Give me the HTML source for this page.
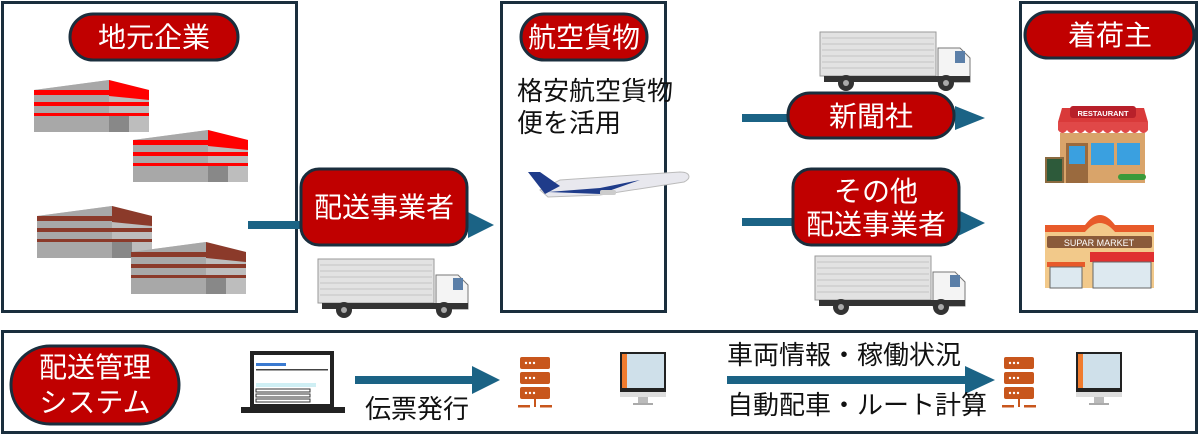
<!DOCTYPE html>
<html><head><meta charset="utf-8"><style>
html,body{margin:0;padding:0;background:#fff;width:1200px;height:441px;overflow:hidden}
svg text{font-family:"Liberation Sans","Noto Sans CJK JP",sans-serif}
</style></head><body>
<svg width="1200" height="441" viewBox="0 0 1200 441" xmlns="http://www.w3.org/2000/svg">
<defs>
<g id="truck">
 <rect x="0" y="0" width="116" height="44" fill="#e2e2e2" stroke="#999" stroke-width="1"/>
 <g stroke="#c4c4c4" stroke-width="1">
  <line x1="2" y1="6" x2="114" y2="6"/><line x1="2" y1="12" x2="114" y2="12"/><line x1="2" y1="18" x2="114" y2="18"/>
  <line x1="2" y1="24" x2="114" y2="24"/><line x1="2" y1="30" x2="114" y2="30"/><line x1="2" y1="36" x2="114" y2="36"/>
 </g>
 <path d="M118 16 L140 16 L150 26 L150 50 L118 50 Z" fill="#f4f4f4" stroke="#777"/>
 <rect x="135" y="19" width="10" height="12" fill="#5b7fa8"/>
 <rect x="4" y="44" width="146" height="6" fill="#333"/>
 <circle cx="26" cy="51" r="8" fill="#333"/><circle cx="26" cy="51" r="3" fill="#aaa"/>
 <circle cx="126" cy="51" r="8" fill="#333"/><circle cx="126" cy="51" r="3" fill="#aaa"/>
</g>
<g id="bldgR">
 <path d="M0 10 L75 0 L115 10 L115 52 L0 52 Z" fill="#bdbdbd"/>
 <path d="M0 10 L75 0 L75 52 L0 52 Z" fill="#a8a8a8"/>
 <rect x="0" y="10" width="75" height="5" fill="#f00"/>
 <rect x="0" y="22" width="115" height="4" fill="#f00"/>
 <rect x="0" y="33" width="115" height="3" fill="#f00"/>
 <path d="M75 0 L115 10 L115 20 L75 16 Z" fill="#f00"/>
 <rect x="75" y="36" width="20" height="16" fill="#888"/>
</g>
<g id="bldgB">
 <path d="M0 10 L75 0 L115 10 L115 52 L0 52 Z" fill="#bdbdbd"/>
 <path d="M0 10 L75 0 L75 52 L0 52 Z" fill="#a8a8a8"/>
 <rect x="0" y="10" width="75" height="5" fill="#8b3a2a"/>
 <rect x="0" y="22" width="115" height="4" fill="#8b3a2a"/>
 <rect x="0" y="33" width="115" height="3" fill="#8b3a2a"/>
 <path d="M75 0 L115 10 L115 20 L75 16 Z" fill="#8b3a2a"/>
 <rect x="75" y="36" width="20" height="16" fill="#888"/>
</g>
<g id="server">
 <rect x="0" y="0" width="30" height="12" rx="2" fill="#c8561c"/>
 <rect x="0" y="15" width="30" height="12" rx="2" fill="#c8561c"/>
 <rect x="0" y="30" width="30" height="12" rx="2" fill="#c8561c"/>
 <g fill="#fff"><circle cx="6" cy="6" r="1.2"/><circle cx="10" cy="6" r="1.2"/><circle cx="14" cy="6" r="1.2"/>
 <circle cx="6" cy="21" r="1.2"/><circle cx="10" cy="21" r="1.2"/><circle cx="14" cy="21" r="1.2"/>
 <circle cx="6" cy="36" r="1.2"/><circle cx="10" cy="36" r="1.2"/><circle cx="14" cy="36" r="1.2"/></g>
 <rect x="14" y="42" width="2" height="8" fill="#c8561c"/>
 <rect x="-2" y="48" width="12" height="2.5" fill="#c8561c"/><rect x="20" y="48" width="12" height="2.5" fill="#c8561c"/>
</g>
<g id="monitor">
 <rect x="0" y="0" width="46" height="40" fill="#222"/>
 <rect x="2" y="2" width="42" height="34" fill="#cfe0ea"/>
 <rect x="2" y="2" width="5" height="34" fill="#f07b2e"/>
 <rect x="0" y="40" width="46" height="5" fill="#ddd"/>
 <rect x="18" y="45" width="10" height="6" fill="#bbb"/>
 <rect x="13" y="51" width="20" height="2" fill="#aaa"/>
</g>
</defs>

<g fill="none" stroke="#1a2e3d" stroke-width="3">
 <rect x="2.5" y="2.5" width="294" height="309"/>
 <rect x="501.5" y="2.5" width="164" height="309"/>
 <rect x="1020.5" y="2.5" width="176" height="309"/>
 <rect x="2.5" y="331.5" width="1194" height="101"/>
</g>

<g fill="#1b6385">
 <rect x="248" y="221" width="54" height="8"/>
 <path d="M468 212 L494 225 L468 238 Z"/>
 <rect x="742" y="114" width="50" height="8"/>
 <path d="M955 106 L985 118 L955 130 Z"/>
 <rect x="742" y="218" width="52" height="8"/>
 <path d="M958 210 L985 223 L958 236 Z"/>
 <rect x="355" y="376" width="120" height="8"/>
 <path d="M472 366 L500 380 L472 394 Z"/>
 <rect x="727" y="376" width="240" height="8"/>
 <path d="M965 366 L995 380 L965 394 Z"/>
</g>

<g fill="#c00000" stroke="#1a2e3d" stroke-width="3">
 <rect x="70" y="14" width="168" height="46" rx="23"/>
 <rect x="301" y="169" width="166" height="76" rx="18"/>
 <rect x="521" y="14" width="126" height="46" rx="23"/>
 <rect x="788" y="93" width="166" height="45" rx="22"/>
 <rect x="793" y="169" width="166" height="76" rx="18"/>
 <rect x="1025" y="12" width="169" height="46" rx="23"/>
 <rect x="11" y="346" width="168" height="78" rx="39"/>
</g>
<g fill="#fff" font-size="28" text-anchor="middle">
 <text x="154" y="47">地元企業</text>
 <text x="384" y="217">配送事業者</text>
 <text x="584" y="47">航空貨物</text>
 <text x="871" y="126">新聞社</text>
 <text x="876" y="201">その他</text>
 <text x="876" y="234">配送事業者</text>
 <text x="1110" y="45">着荷主</text>
 <text x="95" y="377">配送管理</text>
 <text x="95" y="412">システム</text>
</g>
<g fill="#111" font-size="26">
 <text x="517" y="100">格安航空貨物</text>
 <text x="517" y="132">便を活用</text>
 <text x="365" y="418">伝票発行</text>
 <text x="727" y="364">車両情報・稼働状況</text>
 <text x="727" y="414">自動配車・ルート計算</text>
</g>

<use href="#bldgR" x="34" y="80"/>
<use href="#bldgR" x="133" y="130"/>
<use href="#bldgB" x="37" y="206"/>
<use href="#bldgB" x="131" y="242"/>

<use href="#truck" x="318" y="259"/>
<use href="#truck" x="820" y="32"/>
<use href="#truck" x="815" y="256"/>

<g>
 <path d="M540 190 L560 180 L680 172 C690 172 692 178 684 182 L600 195 L548 197 Z" fill="#e8e8ee" stroke="#bbb"/>
 <path d="M548 192 L600 188 L640 180 L600 194 Z" fill="#1f3c8a"/>
 <path d="M528 172 L540 172 L560 186 L545 194 Z" fill="#1f3c8a"/>
 <rect x="600" y="190" width="16" height="5" rx="2" fill="#ccc"/>
</g>

<g>
 <rect x="1060" y="133" width="85" height="50" fill="#d9a46a"/>
 <path d="M1058 122 L1062 108 L1144 108 L1148 122 Z" fill="#d93a3a"/>
 <rect x="1070" y="106" width="66" height="12" rx="3" fill="#b8202a"/>
  <text x="1103" y="116" font-size="7.5" font-weight="bold" fill="#fff" text-anchor="middle">RESTAURANT</text>
 <path d="M1058 122 h90 v8 q-4.5 6 -9 0 q-4.5 6 -9 0 q-4.5 6 -9 0 q-4.5 6 -9 0 q-4.5 6 -9 0 q-4.5 6 -9 0 q-4.5 6 -9 0 q-4.5 6 -9 0 q-4.5 6 -9 0 q-4.5 6 -9 0 Z" fill="#e04848"/>
 <rect x="1066" y="143" width="22" height="40" fill="#9a6a3e"/>
 <rect x="1069" y="146" width="16" height="18" fill="#3aa0e0"/>
 <rect x="1091" y="143" width="23" height="22" fill="#3aa0e0"/>
 <rect x="1117" y="143" width="23" height="22" fill="#3aa0e0"/>
 <rect x="1046" y="158" width="17" height="24" fill="#2d5a3a" stroke="#8a6a40" stroke-width="2"/>
 <rect x="1118" y="174" width="28" height="6" rx="3" fill="#3a9a3a"/>
</g>
<g>
 <path d="M1045 232 L1085 232 Q1100 210 1115 232 L1154 232 L1154 288 L1045 288 Z" fill="#f2c98a"/>
 <path d="M1045 225 L1085 225 Q1100 205 1115 225 L1154 225 L1154 232 L1115 232 Q1100 214 1085 232 L1045 232 Z" fill="#e85a2a"/>
 <rect x="1047" y="236" width="105" height="12" rx="2" fill="#8a5a3a"/>
 <text x="1099" y="246" font-size="9" fill="#fff" text-anchor="middle">SUPAR MARKET</text>
 <rect x="1047" y="262" width="38" height="5" fill="#e85a2a"/>
 <rect x="1050" y="267" width="32" height="21" fill="#dde9f0" stroke="#666"/>
 <rect x="1090" y="252" width="64" height="10" fill="#e03030"/>
 <rect x="1093" y="262" width="58" height="26" fill="#dde9f0" stroke="#666"/>
</g>

<g>
 <rect x="250" y="351" width="84" height="56" fill="#222"/>
 <rect x="254" y="355" width="76" height="49" fill="#fff"/>
 <rect x="256" y="363" width="30" height="3" fill="#3a7ad0"/>
 <rect x="256" y="369" width="72" height="1.5" fill="#444"/>
 <rect x="256" y="383" width="60" height="4" fill="#cfeff4"/>
 <g fill="none" stroke="#333"><rect x="256" y="389" width="54" height="3"/><rect x="256" y="394" width="54" height="3"/><rect x="256" y="399" width="54" height="3"/></g>
 <rect x="241" y="407" width="104" height="6" fill="#222"/>
</g>

<use href="#server" x="520" y="357"/>
<use href="#monitor" x="620" y="352"/>
<use href="#server" x="1004" y="357"/>
<use href="#monitor" x="1076" y="352"/>
</svg>
</body></html>
